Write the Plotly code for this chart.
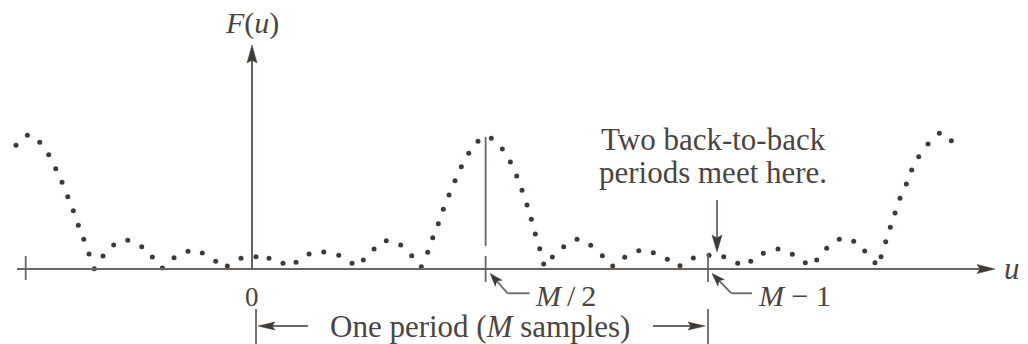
import plotly.graph_objects as go

W, H = 1028, 344

# Period length in samples; u is measured in samples
M = 64

# Magnitude samples |F(u)| (peak normalised to ~1), left to right
u_vals = [
    -32.61, -31.04, -29.33, -28.09, -27.12, -26.25, -25.46, -24.69, -24.00, -23.25,
    -22.52, -21.79, -20.59, -19.11, -17.17, -15.24, -13.77, -12.39, -10.78, -8.84,
    -6.87, -5.02, -3.41, -1.52, 0.55, 2.35, 4.28, 6.08, 7.88, 9.91,
    11.98, 13.82, 15.38, 16.86, 18.55, 20.54, 22.06, 23.39, 24.27, 24.97,
    25.74, 26.43, 27.22, 28.05, 28.92, 29.94, 31.22, 33.06, 34.58, 35.69,
    36.57, 37.30, 37.99, 38.59, 39.14, 39.75, 40.30, 41.49, 43.06, 44.90,
    46.79, 48.40, 49.83, 51.49, 53.43, 55.44, 57.38, 59.13, 60.97, 63.14,
    65.17, 67.10, 68.90, 70.64, 72.67, 74.65, 76.44, 78.02, 79.40, 81.14,
    83.13, 84.65, 86.07, 86.90, 87.55, 88.19, 88.84, 89.53, 90.40, 91.14,
    92.11, 93.40, 94.96, 96.62,
]
F_vals = [
    0.916, 0.990, 0.939, 0.847, 0.743, 0.642, 0.536, 0.432, 0.324, 0.220,
    0.111, 0.002, 0.096, 0.178, 0.213, 0.165, 0.089, 0.007, 0.084, 0.131,
    0.119, 0.057, 0.022, 0.079, 0.091, 0.079, 0.042, 0.050, 0.111, 0.126,
    0.101, 0.042, 0.067, 0.148, 0.210, 0.178, 0.099, 0.017, 0.124, 0.232,
    0.336, 0.442, 0.548, 0.654, 0.758, 0.857, 0.946, 0.969, 0.889, 0.793,
    0.689, 0.583, 0.474, 0.368, 0.259, 0.150, 0.037, 0.089, 0.165, 0.220,
    0.176, 0.099, 0.022, 0.087, 0.136, 0.121, 0.072, 0.024, 0.081, 0.102,
    0.091, 0.042, 0.057, 0.116, 0.148, 0.109, 0.047, 0.067, 0.153, 0.220,
    0.205, 0.133, 0.047, 0.091, 0.202, 0.309, 0.415, 0.524, 0.630, 0.733,
    0.832, 0.926, 1.005, 0.950,
]

# Visible window of the (hidden) axes
U_MIN, U_MAX = -34.82, 107.21
F_MIN, F_MAX = -0.5556, 1.9926

INK = "#3f3a36"
LINE = "#6b6662"
TEXT = "#4a4541"
FONT = "Liberation Serif"


def ux(px):
    """Page column (px) -> u."""
    return U_MIN + px * (U_MAX - U_MIN) / W


def fy(py):
    """Page row (px) -> F."""
    return F_MAX - py * (F_MAX - F_MIN) / H


def pu(u):
    """u -> page column (px)."""
    return (u - U_MIN) * W / (U_MAX - U_MIN)


def pf(f):
    """F -> page row (px)."""
    return (F_MAX - f) * H / (F_MAX - F_MIN)


shapes = []


def seg(x0, y0, x1, y1, width=1.8, color=LINE):
    shapes.append(dict(type="line", xref="x", yref="y",
                       x0=ux(x0), y0=fy(y0), x1=ux(x1), y1=fy(y1),
                       line=dict(color=color, width=width)))


def arrow(x0, y0, x1, y1, head_len=17, half_w=4.5, notch=3, width=1.8, color=LINE):
    """Straight arrow in page pixels, tip at (x1, y1), stealth-style head."""
    dx, dy = x1 - x0, y1 - y0
    L = (dx * dx + dy * dy) ** 0.5
    ex, ey = dx / L, dy / L
    nx, ny = -ey, ex
    bx, by = x1 - ex * head_len, y1 - ey * head_len
    cx, cy = bx + ex * notch, by + ey * notch
    seg(x0, y0, cx, cy, width=width, color=color)
    pts = [(x1, y1), (bx + nx * half_w, by + ny * half_w), (cx, cy),
           (bx - nx * half_w, by - ny * half_w)]
    path = "M " + " L ".join(f"{ux(px)},{fy(py)}" for px, py in pts) + " Z"
    shapes.append(dict(type="path", xref="x", yref="y", path=path,
                       fillcolor=INK, line=dict(color=INK, width=0.5)))


base = pf(0)          # row of the u axis
x_zero = pu(0)        # column of the F axis
x_half = pu(M / 2)
x_last = pu(M - 1)

# u axis with arrow, and the left end tick
arrow(17, base, 995, base, head_len=18, half_w=4.5)
seg(25.7, base - 13, 25.7, base + 11)

# F(u) axis
arrow(x_zero, base, x_zero, 45, head_len=18, half_w=5, color="#55504c")

# M/2 marker: tall line from the peak plus a tick across the axis
seg(x_half + 2, 137, x_half + 2, 246)
seg(x_half + 2, 256, x_half + 2, 282)
# M-1 tick
seg(x_last, 253, x_last, 282)

# Leader arrows for the M/2 and M-1 labels
seg(x_half + 24, 293.3, x_half + 46, 293.3)
arrow(x_half + 24, 293.3, x_half + 6.5, 273.5, head_len=13, half_w=4.5)
seg(x_last + 23.5, 293.3, x_last + 44, 293.3)
arrow(x_last + 23.5, 293.3, x_last + 4, 273.5, head_len=13, half_w=4.5)

# "periods meet here" pointer
arrow(x_last + 9, 200, x_last + 9, 252, head_len=17, half_w=5)

# One-period bracket
x_lb = x_zero + 4
seg(x_lb, 309, x_lb, 344)
seg(x_last, 309, x_last, 344)
arrow(x_lb + 52, 326, x_lb + 2, 326, head_len=17, half_w=4)
arrow(x_last - 55, 326, x_last - 3, 326, head_len=17, half_w=4)

fig = go.Figure()
fig.add_trace(go.Scatter(
    x=u_vals, y=F_vals, mode="markers",
    marker=dict(size=5, color=INK, line=dict(width=0)),
    hoverinfo="skip", showlegend=False,
))


def label(text, px, py, size=28, xanchor="center"):
    return dict(x=ux(px), y=fy(py), xref="x", yref="y", text=text,
                showarrow=False, xanchor=xanchor, yanchor="middle",
                font=dict(family=FONT, size=size, color=TEXT))


annotations = [
    label("<i>F</i>(<i>u</i>)", x_zero, 23, size=30),
    label("<i>u</i>", 1002, 268, size=31, xanchor="left"),
    label("0", x_zero, 297, size=27),
    label("<i>M</i>\u2009/\u20092", x_half + 49, 295, size=30, xanchor="left"),
    label("<i>M</i> \u2212 1", x_last + 48, 295, size=30, xanchor="left"),
    label("One period (<i>M</i> samples)", (x_lb + x_last) / 2 - 2, 326, size=31),
    label("Two back-to-back", 713, 139, size=31),
    label("periods meet here.", 713, 172, size=31),
]

fig.update_layout(
    width=W, height=H,
    margin=dict(l=0, r=0, t=0, b=0),
    paper_bgcolor="white", plot_bgcolor="white",
    xaxis=dict(range=[U_MIN, U_MAX], visible=False, fixedrange=True),
    yaxis=dict(range=[F_MIN, F_MAX], visible=False, fixedrange=True),
    shapes=shapes,
    annotations=annotations,
    showlegend=False,
)

fig.write_html("out.html")
